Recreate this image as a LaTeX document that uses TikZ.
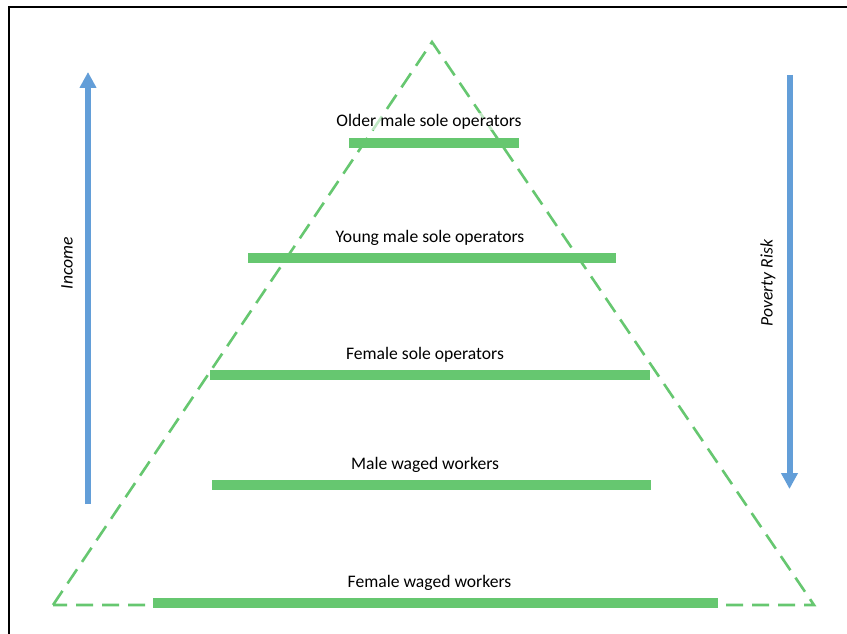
\documentclass[tikz,border=0pt]{standalone}
\usepackage{fontspec}
\setmainfont{Carlito}
\usetikzlibrary{arrows.meta}
\definecolor{pgreen}{RGB}{102,199,112}
\definecolor{pblue}{RGB}{99,158,216}
\tikzset{
  tri/.style={draw=pgreen, line width=2.6pt, dash pattern=on 17pt off 9pt, line join=miter},
  bar/.style={draw=pgreen, line width=10pt},
  lbl/.style={font=\fontsize{17.6}{21}\selectfont, text=black, fill=white, fill opacity=0.6, text opacity=1, inner sep=1pt, anchor=base},
  side/.style={font=\fontsize{17.6}{21}\selectfont\itshape, text=black, rotate=90, anchor=center},
  bigarrow/.style={draw=pblue, line width=6pt, -{Triangle[width=16pt,length=16pt]}},
  frame/.style={draw=black, line width=2.4pt}
}
\begin{document}
\begin{tikzpicture}[x=1pt,y=-1pt]
\useasboundingbox (0,0) rectangle (847,634);
\fill[white] (0,0) rectangle (847,634);
% frame
\coordinate (fA) at (9,634);
\coordinate (fB) at (9,7);
\coordinate (fC) at (847,7);
\draw[frame] (fA) -- (fB) -- (fC);
% triangle
\coordinate (apex) at (432,42);
\coordinate (bl) at (53,605);
\coordinate (br) at (814,605);
\draw[tri] (bl) -- (apex) -- (br) -- cycle;
% bars
\coordinate (b1l) at (349,142.5); \coordinate (b1r) at (519,142.5);
\coordinate (b2l) at (248,258);   \coordinate (b2r) at (616,258);
\coordinate (b3l) at (210,375);   \coordinate (b3r) at (650,375);
\coordinate (b4l) at (212,485);   \coordinate (b4r) at (651,485);
\coordinate (b5l) at (153,603);   \coordinate (b5r) at (718,603);
\draw[bar] (b1l) -- (b1r);
\draw[bar] (b2l) -- (b2r);
\draw[bar] (b3l) -- (b3r);
\draw[bar] (b4l) -- (b4r);
\draw[bar] (b5l) -- (b5r);
% labels
\node[lbl] (t1) at (429,126.5) {Older male sole operators};
\node[lbl] (t2) at (430,242) {Young male sole operators};
\node[lbl] (t3) at (425,359.5) {Female sole operators};
\node[lbl] (t4) at (425,469) {Male waged workers};
\node[lbl] (t5) at (429.5,587) {Female waged workers};
% arrows
\coordinate (incB) at (88,504);
\coordinate (incT) at (88,72);
\coordinate (povT) at (789.5,75);
\coordinate (povB) at (789.5,489);
\draw[bigarrow] (incB) -- (incT);
\draw[bigarrow] (povT) -- (povB);
\node[side] (inc) at (67,263) {Income};
\node[side] (pov) at (768,283) {Poverty Risk};
\end{tikzpicture}
\end{document}
